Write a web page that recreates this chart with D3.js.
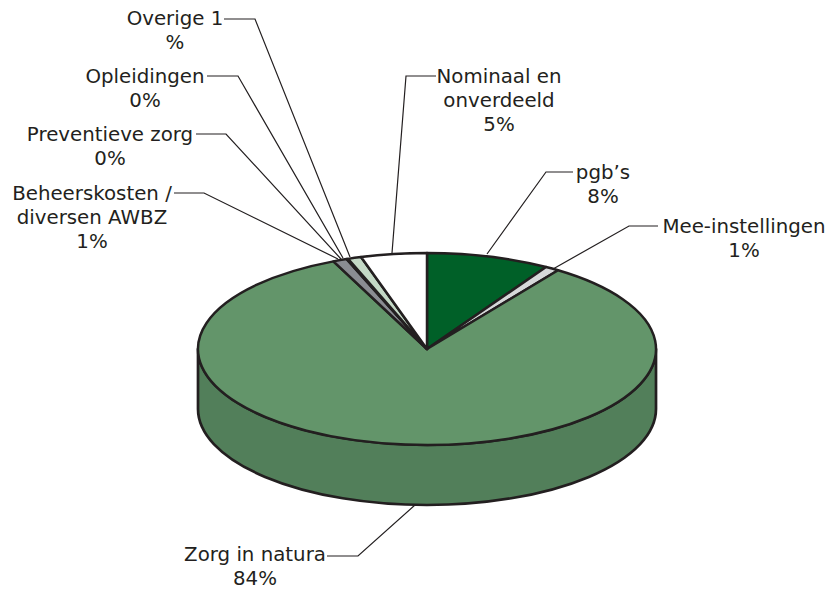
<!DOCTYPE html>
<html><head><meta charset="utf-8">
<script src="https://cdn.jsdelivr.net/npm/d3@7/dist/d3.min.js"></script>
<style>html,body{margin:0;padding:0;background:#fff}svg{display:block}text{font-family:"DejaVu Sans",sans-serif;font-size:19.8px;fill:#231f20;text-anchor:middle}</style>
</head><body><svg id="c" width="836" height="589"></svg>
<script>
const categories = ["pgb's","Mee-instellingen","Zorg in natura","Beheerskosten / diversen AWBZ","Preventieve zorg","Opleidingen","Overige 1","Nominaal en onverdeeld"];
const values = [8.7,1.0,83.6,1.0,0.05,0.05,0.95,4.65];
const colors = ["#006028","#d6d8d9","#63956a","#8a8c92","#dfe7df","#dfe7df","#c4d9c6","#ffffff"];
const labelLines = [["pgb’s","8%"],["Mee-instellingen","1%"],["Zorg in natura","84%"],["Beheerskosten /","diversen AWBZ","1%"],["Preventieve zorg","0%"],["Opleidingen","0%"],["Overige 1","%"],["Nominaal en","onverdeeld","5%"]];
const labelPos = [[603,179],[744,233],[255,561],[92,200],[110,141],[145,83],[175,25],[499,83]];
const labelLead = [24,24,23.5,24,24,24,24,24];
const leaders = [
 [[573,172],[546,172],[487,254]],
 [[658,226],[629,226],[553,269]],
 [[327,556],[358,556],[415,505]],
 [[174,193],[204,193],[338,259]],
 [[196,134],[226,134],[341,259]],
 [[207,76],[238,76],[343,258]],
 [[224,19],[255,19],[350,257]],
 [[436,76],[406,76],[392,253]]
];
const cx=427, cy=349, rx=229, ry=96, depth=60, ink="#231f20";
const svg=d3.select("#c");
// side wall
svg.append("path")
  .attr("d",`M${cx-rx},${cy} A${rx},${ry} 0 0 0 ${cx+rx},${cy} L${cx+rx},${cy+depth} A${rx},${ry} 0 0 1 ${cx-rx},${cy+depth} Z`)
  .attr("fill","#527f5a").attr("stroke",ink).attr("stroke-width",2.7).attr("stroke-linejoin","round");
// top face
const slices=d3.pie().sort(null).value(d=>d)(values);
const arc=d3.arc().innerRadius(0).outerRadius(rx);
const topFace=svg.append("g").attr("transform",`translate(${cx},${cy}) scale(1,${ry/rx})`);
topFace.selectAll("path").data(slices).join("path")
  .attr("d",arc).attr("fill",(d,i)=>colors[i])
  .attr("stroke",ink).attr("stroke-width",2.5).attr("stroke-linejoin","round")
  .attr("vector-effect","non-scaling-stroke");
// leaders
const line=d3.line();
svg.append("g").selectAll("path").data(leaders).join("path")
  .attr("d",line).attr("fill","none").attr("stroke",ink).attr("stroke-width",1.2);
// labels: one text element per label, one tspan per line
const texts=svg.append("g").selectAll("text").data(labelLines).join("text");
texts.each(function(ls,i){
  d3.select(this).selectAll("tspan").data(ls).join("tspan")
    .attr("x",labelPos[i][0])
    .attr("y",(t,j)=>labelPos[i][1]+j*labelLead[i])
    .text(t=>t);
});
</script></body></html>
